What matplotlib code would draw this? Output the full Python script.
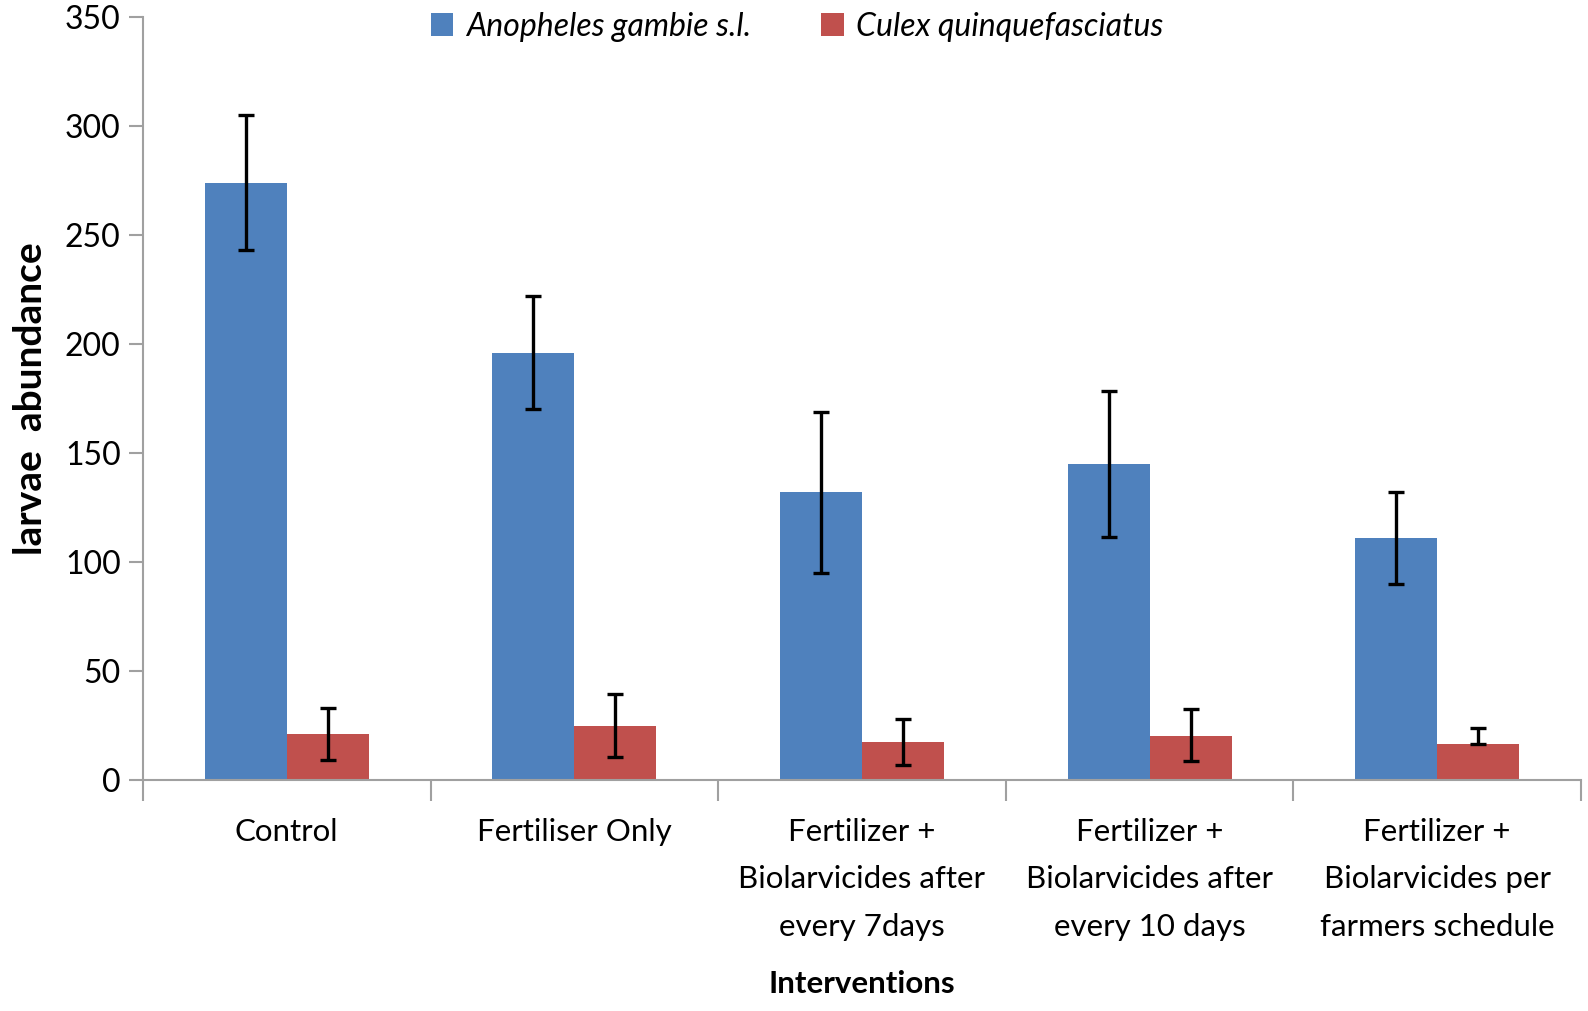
import numpy as np
import matplotlib
matplotlib.use("Agg")
import matplotlib.pyplot as plt

plt.rcParams["font.family"] = ["Lato", "DejaVu Sans"]

categories = ["Control", "Fertiliser Only",
              "Fertilizer +\nBiolarvicides after\nevery 7days",
              "Fertilizer +\nBiolarvicides after\nevery 10 days",
              "Fertilizer +\nBiolarvicides per\nfarmers schedule"]
anopheles = [274, 196, 132, 145, 111]
anopheles_err = [31, 26, 37, 33.5, 21]
culex = [21, 25, 17.5, 20, 16.5]
culex_err_lo = [12, 14.5, 10.5, 11.5, 0]
culex_err_hi = [12, 14.5, 10.5, 12.5, 7.5]

BLUE, RED, GREY = "#4F81BD", "#C0504D", "#A0A0A0"

fig = plt.figure(figsize=(15.88, 10.11), dpi=100)
ax = fig.add_axes([0.090, 0.2285, 0.9956 - 0.090, 0.983 - 0.2285])

x = np.arange(len(categories))
w = 0.285
ekw = dict(ecolor="black", elinewidth=2.4, capsize=6, capthick=2.4)
ax.bar(x - w / 2, anopheles, w, color=BLUE, label="Anopheles gambie s.l.",
       yerr=anopheles_err, error_kw=ekw, zorder=2)
ax.bar(x + w / 2, culex, w, color=RED, label="Culex quinquefasciatus",
       yerr=[culex_err_lo, culex_err_hi], error_kw=ekw, zorder=2)

ax.set_xlim(-0.5, len(categories) - 0.5)
ax.set_ylim(0, 350)
ax.set_yticks(np.arange(0, 351, 50))
ax.tick_params(axis="y", labelsize=23, length=10, width=1.5, color=GREY, pad=6)

# category labels sit between the boundary ticks
ax.set_xticks(np.arange(-0.5, len(categories) - 0.4, 1.0))
ax.set_xticklabels([])
ax.tick_params(axis="x", length=15, width=1.5, color=GREY)
for xi, lab in zip(x, categories):
    ax.text(xi, -17.5, lab, ha="center", va="top", fontsize=22.5,
            linespacing=1.84, transform=ax.transData)

for s in ("top", "right"):
    ax.spines[s].set_visible(False)
for s in ("left", "bottom"):
    ax.spines[s].set_color(GREY)
    ax.spines[s].set_linewidth(1.5)

ax.set_ylabel("larvae  abundance", fontsize=28, fontweight="bold", labelpad=12)
fig.text(0.543, 0.027, "Interventions", ha="center", va="center",
         fontsize=22.5, fontweight="bold")

ax.legend(loc="upper center", bbox_to_anchor=(0.455, 1.045), ncol=2,
          frameon=False, handlelength=0.7, handleheight=0.7,
          handletextpad=0.4, columnspacing=2.2,
          prop={"style": "italic", "size": 23})

fig.savefig("out.png", dpi=100)
